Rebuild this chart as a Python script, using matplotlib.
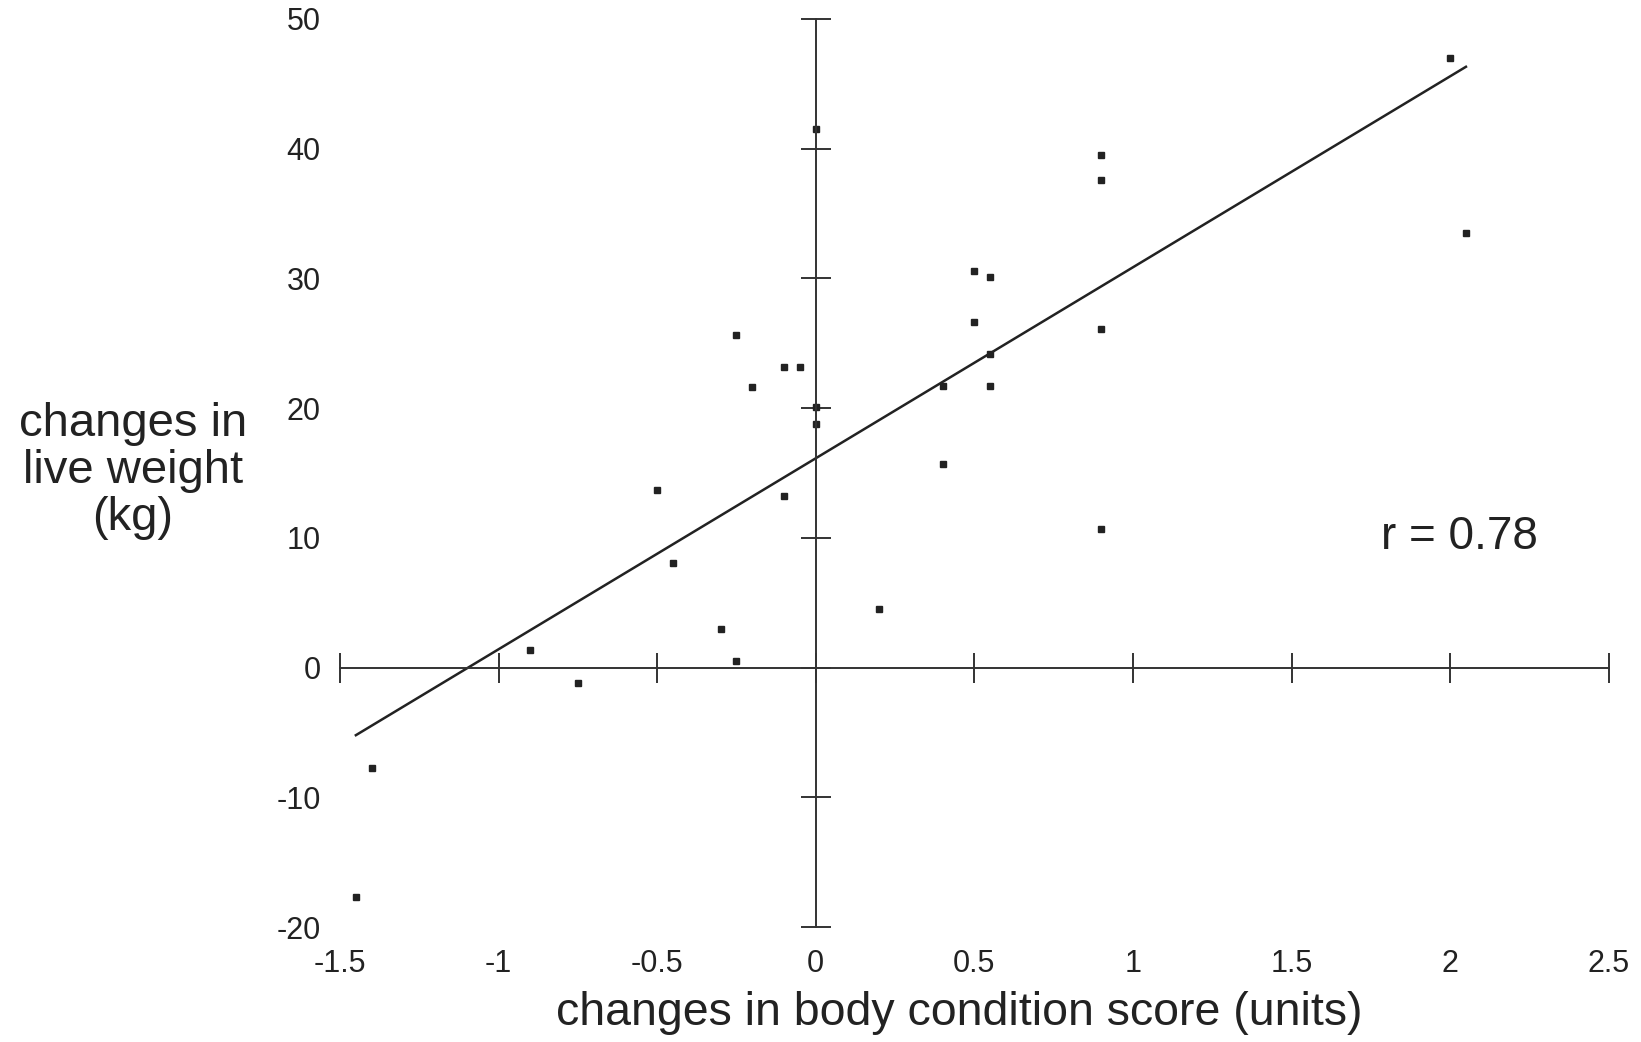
import numpy as np
import matplotlib
matplotlib.use("Agg")
import matplotlib.pyplot as plt

bcs_change = [2.0, 2.05, 0.9, 0.9, 0.9, 0.9, 0.5, 0.55, 0.5, 0.55, 0.55,
              0.4, 0.4, 0.2, 0.0, 0.0, 0.0, -0.05, -0.1, -0.2, -0.25, -0.1,
              -0.5, -0.45, -0.3, -0.25, -0.9, -0.75, -1.4, -1.45]
weight_change = [47.0, 33.5, 39.5, 37.6, 26.1, 10.7, 30.6, 30.1, 26.6, 24.2, 21.7,
                 21.7, 15.7, 4.5, 41.5, 20.1, 18.8, 23.2, 23.2, 21.6, 25.6, 13.2,
                 13.7, 8.1, 3.0, 0.5, 1.4, -1.2, -7.7, -17.7]

# regression line end points
fit_x = [-1.45, 2.05]
fit_y = [-5.2, 46.3]

x_ticks = [-1.5, -1, -0.5, 0, 0.5, 1, 1.5, 2, 2.5]
x_labels = ['-1.5', '-1', '-0.5', '0', '0.5', '1', '1.5', '2', '2.5']
y_ticks = [-20, -10, 0, 10, 20, 30, 40, 50]
y_labels = ['-20', '-10', '0', '10', '20', '30', '40', '50']

plt.rcParams['font.family'] = ['Liberation Sans', 'DejaVu Sans']

fig = plt.figure(figsize=(16.41, 10.42), dpi=100)
rect = [0.2072, 0.1101, 0.7731, 0.8719]

# axes lines crossing at the origin
ax = fig.add_axes(rect)
ax.set_xlim(-1.5, 2.5)
ax.set_ylim(-20, 50)
ax.spines['left'].set_position(('data', 0))
ax.spines['bottom'].set_position(('data', 0))
ax.spines['right'].set_visible(False)
ax.spines['top'].set_visible(False)
for s in ('left', 'bottom'):
    ax.spines[s].set_linewidth(1.4)
    ax.spines[s].set_color('#333333')
ax.set_xticks(x_ticks)
ax.set_yticks(y_ticks)
ax.tick_params(direction='inout', length=22, width=1.4, color='#333333',
               labelbottom=False, labelleft=False)

ax.plot(fit_x, fit_y, '-', color='#222222', lw=1.8)
ax.plot(bcs_change, weight_change, 's', color='#222222', ms=4.2, ls='none')
ax.text(2.03, 10.1, 'r = 0.78', ha='center', va='center', fontsize=33, color='#222222')

# tick labels sit at the outer edges
lab = fig.add_axes(rect, frameon=False)
lab.set_xlim(-1.5, 2.5)
lab.set_ylim(-20, 50)
lab.set_xticks(x_ticks, x_labels)
lab.set_yticks(y_ticks, y_labels)
lab.tick_params(length=0, labelsize=22, labelcolor='#222222')
lab.tick_params(axis='x', pad=16)
lab.tick_params(axis='y', pad=14)
lab.patch.set_visible(False)

fig.text(959 / 1641, 1 - 1013 / 1042, 'changes in body condition score (units)',
         ha='center', va='center', fontsize=33.5, color='#222222')
fig.text(133 / 1641, 1 - 471 / 1042, 'changes in\nlive weight\n(kg)',
         ha='center', va='center', multialignment='center', linespacing=1.1,
         fontsize=34, color='#222222')

fig.savefig('out.png', dpi=100, facecolor='white')
